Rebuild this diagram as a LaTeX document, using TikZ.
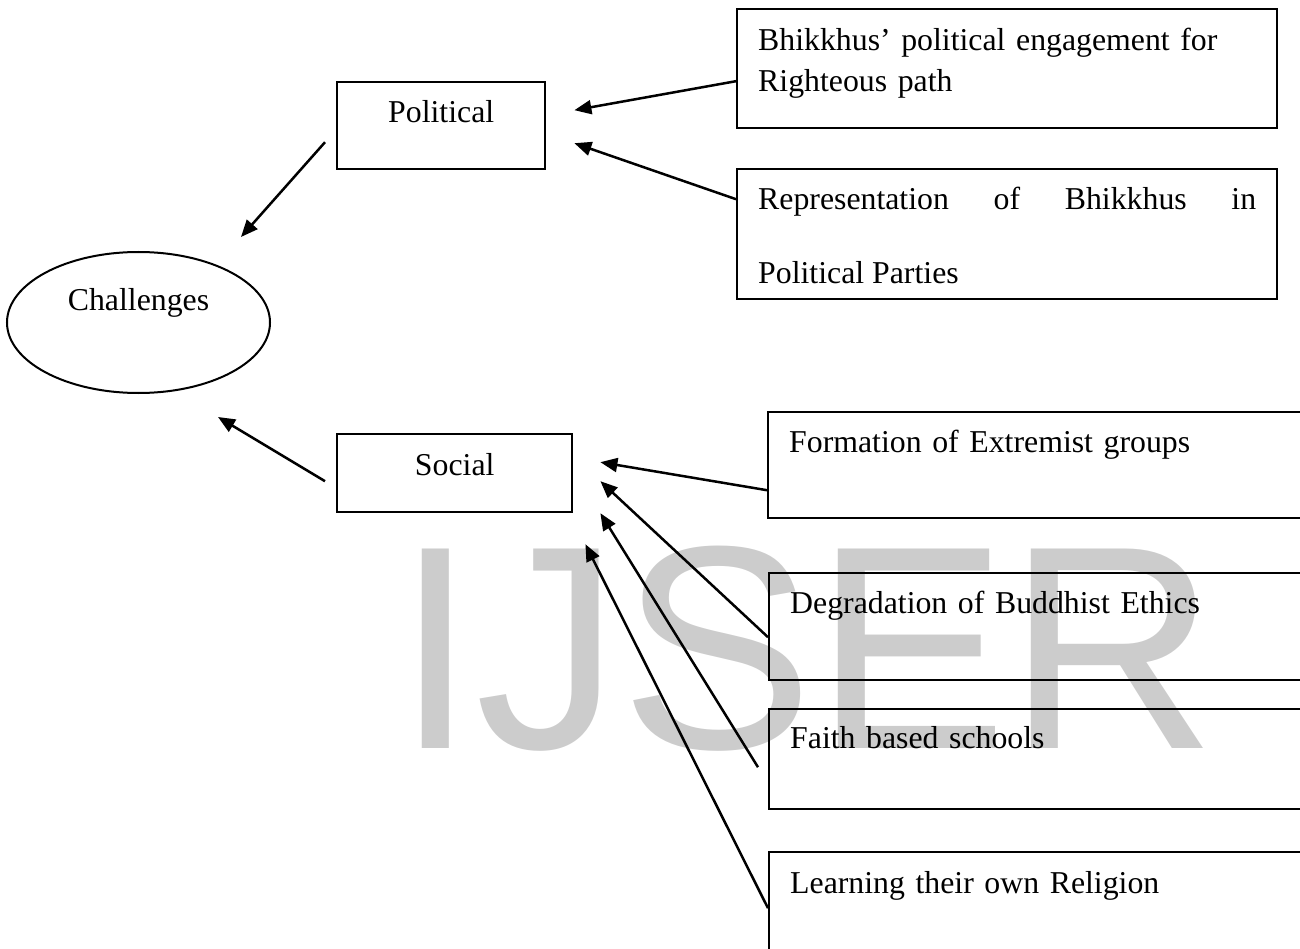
\documentclass[tikz,border=0pt]{standalone}
\usepackage{fontspec}
\setmainfont{Liberation Serif}
\newfontfamily\wmfont{Liberation Sans}
\usetikzlibrary{arrows.meta,shapes.geometric}
\begin{document}
\begin{tikzpicture}[x=1pt, y=-1pt, font=\fontsize{31.8}{41}\selectfont]
        \tikzstyle{box} = [rectangle, draw=black, line width=2.4pt, anchor=north west, inner ysep=0pt]
        \tikzstyle{headbox} = [box, inner xsep=0pt, align=center]
        \tikzstyle{itembox} = [box, inner xsep=21pt, align=left]
        \tikzstyle{arrow} = [line width=2.5pt, -{Triangle[length=17pt,width=14pt]}]

                \useasboundingbox (0,0) rectangle (1300,949);
                \clip (0,0) rectangle (1300,949);

                \node (wmark) [anchor=base west, inner sep=0pt, text=black!20, font=\wmfont\fontsize{290}{290}\selectfont] at (395,748) {IJSER};

                \node (challenges) [ellipse, draw=black, line width=2pt, minimum width=263pt, minimum height=141pt, inner sep=0pt, text height=22pt, text depth=45pt] at (138.5,322.5) {Challenges};
                \node (political) [headbox, text width=208pt, text height=40pt, text depth=47pt] at (336,81) {Political};
                \node (social) [headbox, text width=235pt, text height=41pt, text depth=37pt] at (336,433) {Social};

                \node (engage) [itembox, text width=498pt, text height=41pt, text depth=78pt] at (736,8) {Bhikkhus’ political engagement for\\Righteous path};
                \node (represent) [itembox, text width=498pt, align=justify, text height=40pt, text depth=90pt, font=\fontsize{31.8}{74}\selectfont] at (736,168) {Representation of Bhikkhus in\linebreak Political Parties};

                \node (extreme) [itembox, text width=510pt, text height=40pt, text depth=66pt] at (767,411) {Formation of Extremist groups};
                \node (ethics) [itembox, text width=510pt, text height=40pt, text depth=67pt] at (768,572) {Degradation of Buddhist Ethics};
                \node (schools) [itembox, text width=510pt, text height=39pt, text depth=61pt] at (768,708) {Faith based schools};
                \node (religion) [itembox, text width=510pt, text height=41pt, text depth=68pt] at (768,851) {Learning their own Religion};

                \draw[arrow] ([shift={(-11,16.5)}]political.west) -- ([shift={(102.5,-85.5)}]challenges.center);
                \draw[arrow] ([shift={(-11,8)}]social.west) -- ([shift={(79.5,94.5)}]challenges.center);
                \draw[arrow] ([shift={(0,12.5)}]engage.west) -- ([shift={(28,-15.5)}]political.east);
                \draw[arrow] ([shift={(0,-35)}]represent.west) -- ([shift={(28,17.5)}]political.east);
                \draw[arrow] ([shift={(0,25)}]extreme.west) -- ([shift={(27,-11)}]social.east);
                \draw[arrow] ([shift={(0,10.5)}]ethics.west) -- ([shift={(27,8)}]social.east);
                \draw[arrow] ([shift={(-10,8)}]schools.west) -- ([shift={(27,40)}]social.east);
                \draw[arrow] ([shift={(0,1.5)}]religion.west) -- ([shift={(12,71)}]social.east);
    \end{tikzpicture}
\end{document}
